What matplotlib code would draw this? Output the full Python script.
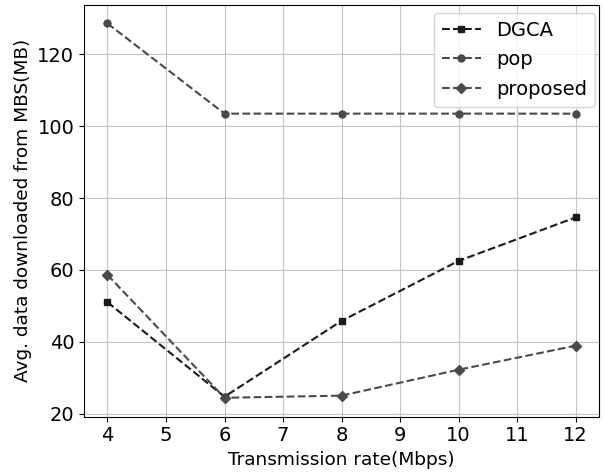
import matplotlib.pyplot as plt

# Dados
rates = [4, 6, 8, 10, 12]
dgca = [51.0, 24.7, 45.8, 62.5, 74.6]
pop = [128.6, 103.5, 103.5, 103.5, 103.5]
proposed = [58.6, 24.4, 25.0, 32.2, 38.9]

fig, ax = plt.subplots(figsize=(6.05, 4.76), dpi=100)

ax.plot(rates, dgca, linestyle="--", marker="s", markersize=5, color="#1a1a1a", label="DGCA")
ax.plot(rates, pop, linestyle="--", marker="o", markersize=5, color="#4a4a4a", label="pop")
ax.plot(rates, proposed, linestyle="--", marker="D", markersize=5, color="#4a4a4a", label="proposed")

ax.set_xlabel("Transmission rate(Mbps)", fontsize=13.3)
ax.set_ylabel("Avg. data downloaded from MBS(MB)", fontsize=13.3)
ax.set_xticks(range(4, 13))
ax.tick_params(labelsize=14)
ax.grid(True, color="#c4c4c4", linewidth=0.8)

ax.legend(fontsize=14, loc="upper right", bbox_to_anchor=(1.0, 0.99),
          borderaxespad=0.2, labelspacing=0.55)

fig.subplots_adjust(left=0.139, right=0.99, top=0.99, bottom=0.125)
fig.savefig("out.png", dpi=100)
plt.close(fig)
